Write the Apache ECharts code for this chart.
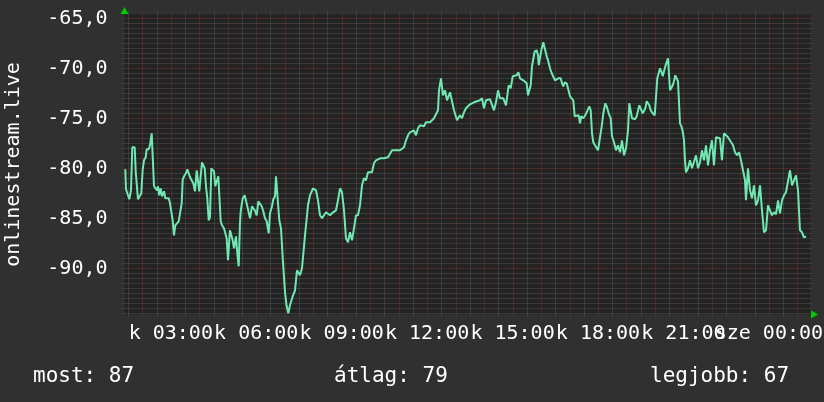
<!DOCTYPE html>
<html><head><meta charset="utf-8">
<script src="https://cdn.jsdelivr.net/npm/echarts@6/dist/echarts.min.js"></script>
<style>html,body{margin:0;padding:0;background:#303030}#c{width:824px;height:402px}</style>
</head><body><div id="c"></div>
<script>
// time in hours since midnight (Tuesday), 24 = Wednesday 00:00
const hours = [1.403,1.428,1.498,1.544,1.603,1.649,1.733,1.768,1.824,1.849,1.919,1.965,2.014,2.060,2.119,2.154,2.225,2.270,2.330,2.376,
2.411,2.481,2.506,2.551,2.597,2.646,2.692,2.762,2.808,2.857,2.927,2.973,3.032,3.067,3.113,3.159,3.229,3.278,3.348,3.383,
3.419,3.464,3.534,3.580,3.629,3.675,3.735,3.791,3.850,3.910,3.966,4.001,4.051,4.096,4.142,4.191,4.237,4.282,4.331,4.377,
4.423,4.472,4.518,4.563,4.612,4.669,4.704,4.753,4.798,4.869,4.914,4.963,5.009,5.079,5.125,5.174,5.220,5.255,5.290,5.336,
5.385,5.430,5.455,5.525,5.595,5.641,5.687,5.736,5.782,5.852,5.922,5.968,6.017,6.073,6.133,6.192,6.249,6.308,6.368,6.438,
6.484,6.554,6.600,6.659,6.694,6.740,6.810,6.870,6.940,7.011,7.063,7.126,7.186,7.281,7.362,7.432,7.537,7.607,7.713,7.818,
7.888,7.994,8.099,8.169,8.239,8.310,8.450,8.591,8.696,8.801,8.871,8.942,9.012,9.082,9.152,9.223,9.293,9.363,9.433,9.503,
9.574,9.644,9.714,9.784,9.855,9.925,9.995,10.065,10.135,10.206,10.276,10.346,10.487,10.627,10.768,10.908,11.048,11.189,11.259,11.329,
11.399,11.540,11.610,11.680,11.751,11.891,11.961,12.102,12.242,12.312,12.383,12.418,12.488,12.558,12.628,12.699,12.804,12.874,12.944,13.050,
13.155,13.225,13.296,13.366,13.436,13.506,13.647,13.717,13.857,13.928,13.998,14.068,14.209,14.279,14.349,14.419,14.490,14.560,14.676,14.770,
14.816,14.865,14.935,15.006,15.076,15.146,15.202,15.262,15.332,15.378,15.448,15.497,15.543,15.589,15.638,15.683,15.729,15.778,15.849,15.894,
15.919,15.965,16.010,16.080,16.150,16.199,16.245,16.315,16.375,16.431,16.491,16.550,16.607,16.691,16.737,16.782,16.831,16.902,16.958,17.018,
17.088,17.133,17.183,17.253,17.323,17.369,17.414,17.485,17.555,17.625,17.695,17.745,17.790,17.836,17.895,18.001,18.071,18.131,18.187,18.257,
18.306,18.376,18.447,18.492,18.563,18.633,18.703,18.773,18.843,18.914,18.984,19.054,19.100,19.149,19.195,19.300,19.360,19.405,19.451,19.521,
19.570,19.616,19.662,19.711,19.756,19.802,19.851,19.921,19.992,20.037,20.083,20.132,20.178,20.223,20.273,20.318,20.364,20.413,20.459,20.504,
20.529,20.575,20.624,20.669,20.715,20.764,20.810,20.855,20.880,20.926,20.975,21.020,21.055,21.091,21.161,21.231,21.301,21.371,21.442,21.512,
21.582,21.652,21.723,21.793,21.863,21.933,22.003,22.074,22.144,22.214,22.284,22.354,22.425,22.495,22.565,22.635,22.741,22.811,22.881,22.951,
23.022,23.092,23.162,23.197,23.267,23.338,23.408,23.478,23.548,23.619,23.689,23.759,23.829,23.900,23.970,24.040,24.110,24.180,24.251,24.321,
24.391,24.461,24.532,24.602,24.672,24.742,24.813,24.883,24.953,25.023,25.093,25.164,25.234,25.304];
const values = [-80.1,-82.1,-82.2,-83.1,-82.2,-77.9,-77.9,-80.3,-80.5,-83.1,-83.2,-82.5,-80.1,-79.2,-78.9,-78.1,-78.1,-77.7,-76.5,-76.3,
-81.8,-81.7,-82.2,-81.8,-82.7,-82.0,-82.8,-82.3,-83.0,-82.9,-83.0,-83.5,-83.7,-85.2,-86.7,-85.7,-85.8,-85.3,-85.2,-83.5,
-81.1,-80.8,-80.5,-80.1,-80.5,-80.9,-80.8,-81.5,-82.3,-80.2,-80.1,-82.3,-82.2,-79.4,-79.3,-80.0,-81.8,-83.0,-85.2,-84.9,
-80.0,-80.2,-80.3,-81.8,-81.8,-80.8,-80.7,-85.3,-85.7,-86.0,-86.2,-87.0,-89.2,-86.2,-86.2,-87.2,-88.0,-88.0,-86.8,-88.5,
-89.8,-85.5,-84.3,-83.0,-82.7,-82.7,-83.8,-84.0,-85.0,-83.8,-83.7,-84.3,-84.7,-83.3,-83.2,-83.8,-84.3,-85.0,-85.3,-86.5,
-84.5,-83.8,-83.1,-82.8,-80.8,-80.8,-85.2,-86.0,-89.4,-92.4,-93.7,-94.5,-93.7,-92.8,-92.2,-90.2,-90.7,-90.0,-86.7,-83.7,
-82.7,-82.0,-82.2,-83.2,-84.7,-85.0,-84.4,-84.7,-84.4,-84.2,-83.2,-82.0,-82.4,-84.2,-87.0,-87.4,-86.4,-87.2,-86.0,-84.7,
-84.7,-83.7,-81.7,-81.0,-81.2,-80.4,-80.2,-80.4,-79.5,-79.2,-79.4,-79.0,-79.0,-78.9,-78.2,-78.2,-78.2,-77.9,-77.2,-76.7,
-76.4,-76.2,-76.7,-76.0,-75.7,-75.8,-75.4,-75.4,-75.0,-75.0,-74.2,-72.2,-71.0,-72.7,-72.2,-73.2,-72.4,-72.2,-74.2,-75.2,
-74.7,-75.0,-74.4,-74.0,-74.2,-73.6,-73.4,-73.2,-73.2,-73.0,-74.0,-73.2,-73.1,-73.2,-74.2,-73.4,-72.2,-73.0,-73.0,-73.7,
-73.7,-71.7,-72.0,-70.8,-71.0,-70.7,-70.4,-71.0,-71.0,-71.2,-71.3,-71.5,-72.7,-72.7,-71.7,-69.8,-69.7,-68.3,-68.2,-68.7,
-69.7,-69.7,-68.2,-67.4,-67.4,-68.8,-69.2,-70.0,-70.5,-70.6,-71.2,-71.3,-71.0,-71.0,-71.5,-71.8,-71.4,-71.5,-71.7,-72.8,
-73.0,-73.2,-74.8,-75.0,-74.7,-75.5,-74.8,-75.0,-74.7,-74.8,-73.8,-74.2,-76.5,-77.4,-77.7,-78.2,-78.0,-75.8,-74.5,-73.5,
-73.8,-74.5,-75.0,-76.8,-77.4,-78.2,-77.7,-78.4,-77.2,-78.7,-78.0,-76.2,-73.5,-73.3,-75.0,-75.1,-74.8,-75.0,-73.7,-73.5,
-74.5,-74.5,-74.0,-73.3,-73.3,-73.7,-74.2,-74.5,-74.7,-74.5,-71.0,-70.9,-70.0,-70.3,-70.8,-70.3,-69.8,-69.7,-69.0,-69.1,
-72.2,-72.1,-71.7,-71.3,-70.7,-70.8,-71.3,-71.5,-75.5,-75.8,-76.3,-77.2,-79.2,-80.4,-80.0,-79.2,-80.0,-80.2,-78.7,-80.0,
-79.4,-78.2,-79.2,-77.7,-79.7,-78.2,-77.2,-79.7,-76.9,-76.9,-77.0,-79.2,-76.5,-76.6,-76.9,-77.0,-77.7,-78.4,-78.7,-78.4,
-79.2,-79.0,-81.2,-83.2,-80.0,-82.2,-83.0,-81.7,-83.7,-83.2,-81.7,-84.2,-86.4,-86.2,-83.7,-84.2,-84.7,-84.4,-84.6,-83.2,
-84.5,-83.2,-82.7,-82.4,-82.2,-80.2,-81.7,-81.7,-80.7,-82.2,-86.2,-86.4,-86.9,-86.8];

const xLabelHours = [3, 6, 9, 12, 15, 18, 21, 24];
const xLabels = ['k 03:00', 'k 06:00', 'k 09:00', 'k 12:00', 'k 15:00', 'k 18:00', 'k 21:00', 'sze 00:00'];
const yLabelValues = [-90, -85, -80, -75, -70, -65];
const yAxisTitle = 'onlinestream.live';
const legendTexts = ['most: 87', 'átlag: 79', 'legjobb: 67'];

const X_MIN = 1.375, X_MAX = 25.462, Y_MIN = -94.62, Y_MAX = -64.62;

const FONT = 'DejaVu Sans Mono';
const MINOR = '#525252', MAJOR = '#763030';

// grid lines: every half hour (red on full hours), every 0.5 unit (red on multiples of 5)
// item = [orientation (0 vertical, 1 horizontal), value, major?]
const gridItems = [];
for (let k = 3; k <= 50; k++) gridItems.push([0, k / 2, k % 2 === 0 ? 1 : 0]);
for (let k = -189; k <= -130; k++) gridItems.push([1, k / 2, k % 10 === 0 ? 1 : 0]);
gridItems.sort((a, b) => a[2] - b[2]);   // red lines on top

const chart = echarts.init(document.getElementById('c'), null, { renderer: 'canvas' });
chart.setOption({
  animation: false,
  backgroundColor: '#303030',
  textStyle: { fontFamily: FONT },
  title: legendTexts.map((t, i) => ({
    text: t,
    left: [33, 334, 650][i],
    top: 366,
    padding: 0,
    textStyle: { fontFamily: FONT, fontSize: 21, fontWeight: 'normal', color: '#ffffff' }
  })),
  grid: { left: 124.5, right: 13.5, top: 14.5, bottom: 87.5, show: true,
          backgroundColor: '#232323', borderWidth: 0,
          containLabel: false, outerBoundsMode: 'none' },
  xAxis: {
    type: 'value', min: X_MIN, max: X_MAX, position: 'bottom',
    axisLine: { show: true, symbol: ['none', 'triangle'], symbolSize: [8, 7], symbolOffset: [0, 4],
                lineStyle: { color: '#00cc00', opacity: 0 } },
    axisTick: { show: false },
    axisLabel: { show: false },
    splitLine: { show: false }
  },
  yAxis: {
    type: 'value', min: Y_MIN, max: Y_MAX, position: 'left',
    name: yAxisTitle, nameLocation: 'middle', nameRotate: 90, nameGap: 101,
    nameTextStyle: { color: '#ffffff', fontFamily: FONT, fontSize: 20 },
    axisLine: { show: true, symbol: ['none', 'triangle'], symbolSize: [8, 7], symbolOffset: [0, 4],
                lineStyle: { color: '#00cc00', opacity: 0 } },
    axisTick: { show: false },
    axisLabel: { show: true, customValues: yLabelValues, margin: 17, color: '#ffffff',
                 fontFamily: FONT, fontSize: 20,
                 formatter: v => v.toFixed(1).replace('.', ',') },
    splitLine: { show: false }
  },
  series: [
    { type: 'custom', silent: true, z: 1, clip: false,
      data: gridItems,
      renderItem: (params, api) => {
        const cs = params.coordSys;
        const orient = api.value(0), v = api.value(1), major = api.value(2);
        const style = { stroke: major ? MAJOR : MINOR, lineWidth: 1, lineDash: [1, 1], fill: null };
        if (orient === 0) {
          const x = Math.round(api.coord([v, Y_MIN])[0]) + 0.5;
          return { type: 'line', shape: { x1: x, y1: cs.y - 3, x2: x, y2: cs.y + cs.height + 3 }, style };
        }
        const y = Math.round(api.coord([X_MIN, v])[1]) + 0.5;
        return { type: 'line', shape: { x1: cs.x - 2, y1: y, x2: cs.x + cs.width + 2, y2: y }, style };
      }
    },
    // time-axis labels, placed at their hour through the x scale (overlap allowed, as in the original)
    { type: 'custom', silent: true, z: 6, clip: false,
      data: xLabelHours.map((h, i) => [h, i]),
      renderItem: (params, api) => {
        const cs = params.coordSys;
        const x = api.coord([api.value(0), Y_MIN])[0];
        return { type: 'text', x: x, y: cs.y + cs.height + 9,
                 style: { text: xLabels[api.value(1)], fill: '#ffffff',
                          font: '20px "' + FONT + '"', align: 'center', verticalAlign: 'top' } };
      }
    },
    { type: 'line',
      data: hours.map((h, i) => [h, values[i]]),
      showSymbol: false, symbol: 'none',
      lineStyle: { color: '#70e8b2', width: 2 },
      z: 5 }
  ]
});
</script></body></html>
